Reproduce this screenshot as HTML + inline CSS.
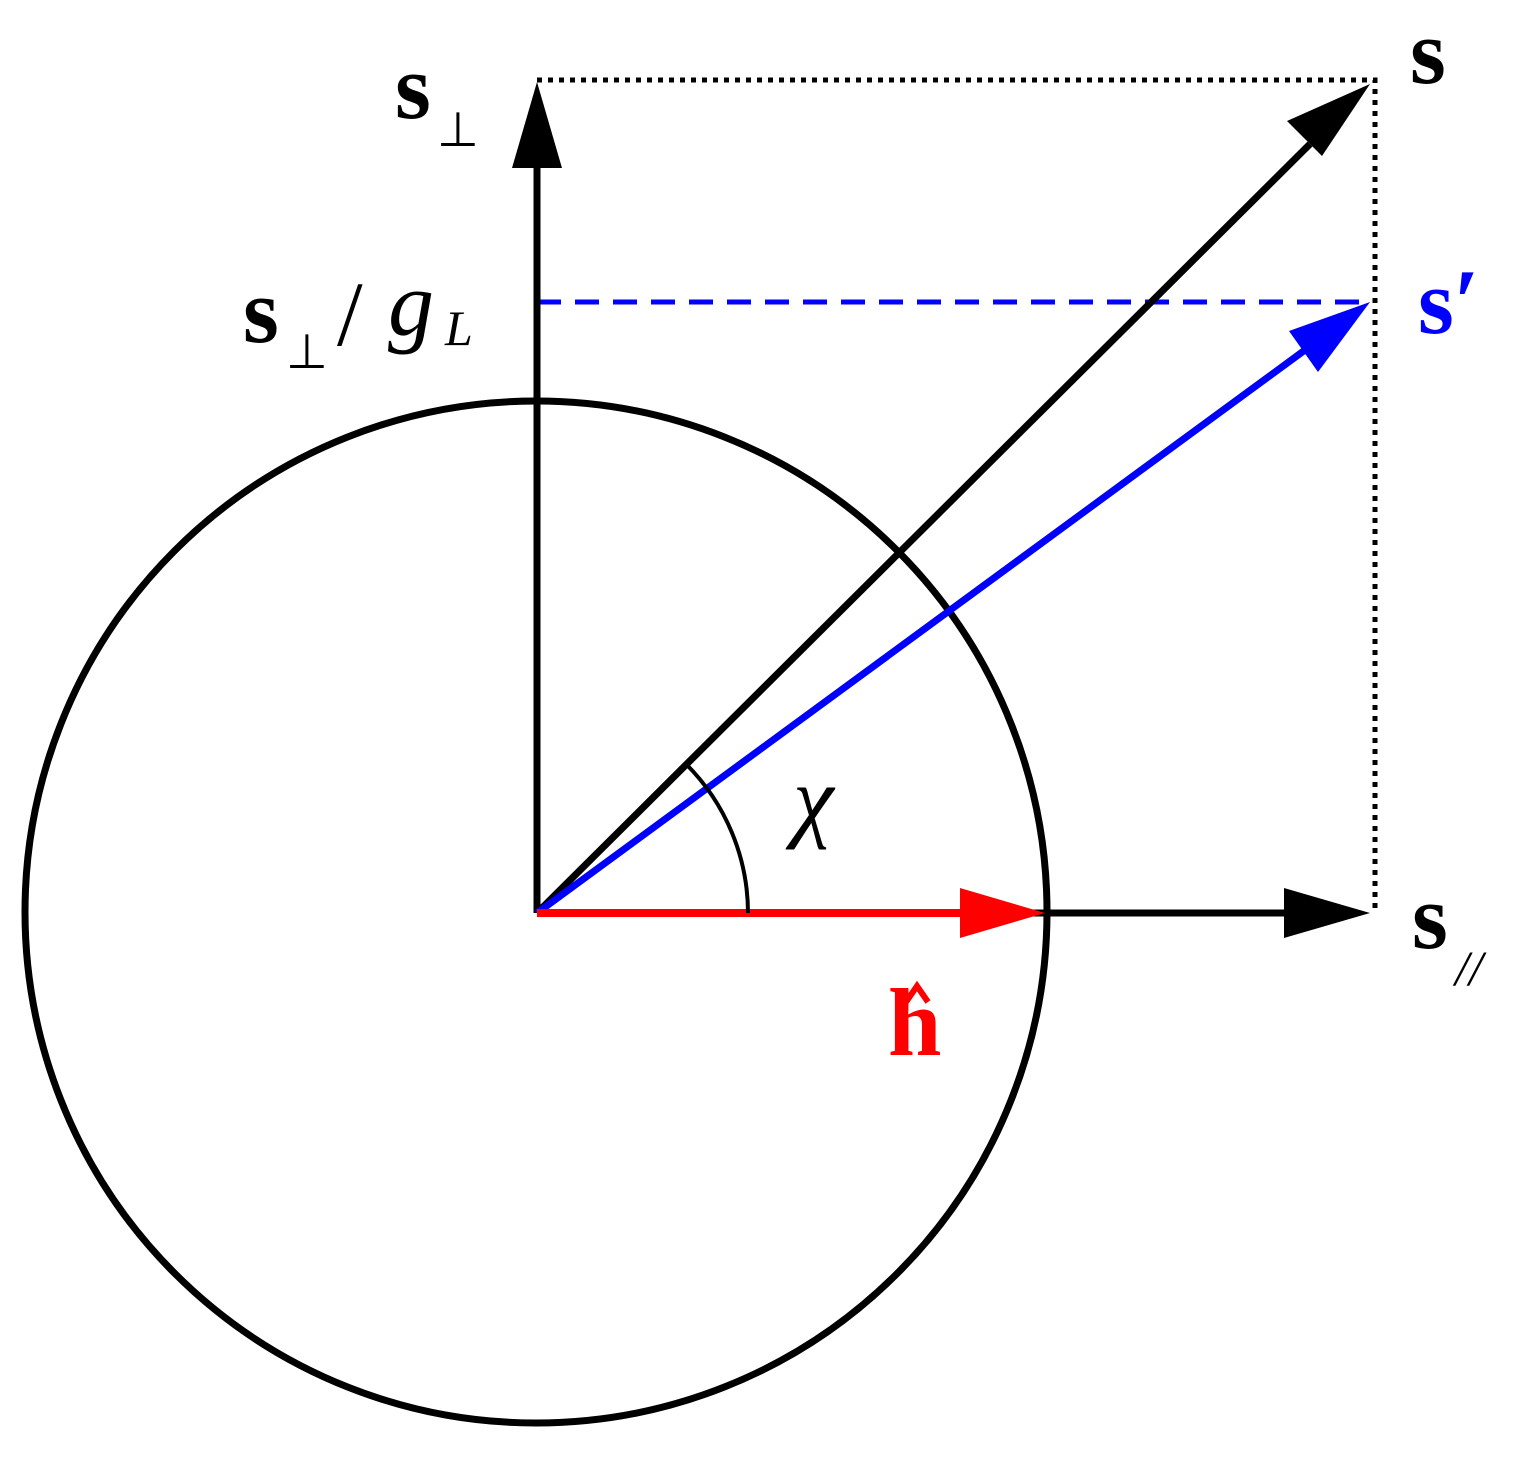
<!DOCTYPE html>
<html><head><meta charset="utf-8"><style>html,body{margin:0;padding:0;background:#fff}
text{font-family:"Liberation Serif",serif}</style></head>
<body>
<svg width="1528" height="1458" viewBox="0 0 1528 1458" xmlns="http://www.w3.org/2000/svg">
<rect width="1528" height="1458" fill="#fff"/>
<circle cx="536" cy="912" r="511" fill="none" stroke="#000" stroke-width="7"/>
<path d="M537 80 H1375 V913" fill="none" stroke="#000" stroke-width="5" stroke-dasharray="5 6"/>
<line x1="537" y1="302" x2="1368" y2="302" stroke="#0000ff" stroke-width="5" stroke-dasharray="24 14"/>
<line x1="537" y1="913" x2="537" y2="160" stroke="#000" stroke-width="7"/>
<polygon points="537,82 512,168 562,168" fill="#000"/>
<line x1="537" y1="913" x2="1290" y2="913" stroke="#000" stroke-width="7"/>
<polygon points="1370,913 1284,888 1284,938" fill="#000"/>
<line x1="537" y1="913" x2="1310" y2="144" stroke="#000" stroke-width="7"/>
<polygon points="1370,84 1287,121 1322,156" fill="#000"/>
<line x1="537" y1="913" x2="1305" y2="350" stroke="#0000ff" stroke-width="7"/>
<polygon points="1370,302 1289,331 1318,372" fill="#0000ff"/>
<line x1="537" y1="913" x2="970" y2="913" stroke="#ff0000" stroke-width="8"/>
<polygon points="1045,913 960,888 960,938" fill="#ff0000"/>
<path d="M748 913 A211 211 0 0 0 686 764" fill="none" stroke="#000" stroke-width="4"/>
<g font-weight="bold">
<text x="1410" y="83" font-size="92">s</text>
<text x="395" y="118" font-size="92">s</text>
<text x="437" y="146" font-size="48" font-weight="normal">⊥</text>
<text x="243" y="342" font-size="92">s</text>
<text x="286" y="368" font-size="48" font-weight="normal">⊥</text>
<text x="337" y="345" font-size="92" font-weight="normal">/</text>
<text x="388" y="335" font-size="92" font-style="italic" font-weight="normal">g</text>
<text x="445" y="345" font-size="50" font-style="italic" font-weight="normal">L</text>
<text x="1418" y="333" font-size="92" fill="#0000ff">s′</text>
<text x="1412" y="948" font-size="92">s</text>
<text x="1455" y="985" font-size="50" font-weight="normal" font-style="italic">//</text>
<text x="888" y="1055" font-size="96" fill="#ff0000">h</text>
<path d="M906 1002 L917 986 L928 1002" fill="none" stroke="#ff0000" stroke-width="6"/>
<text x="793" y="830" font-size="92" font-style="italic" font-weight="normal">χ</text>
</g>
</svg>
</body></html>
